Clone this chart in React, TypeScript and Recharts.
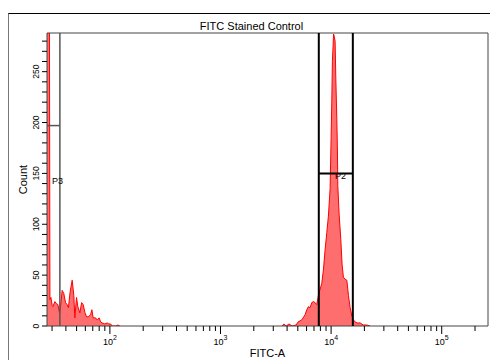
import {
  ComposedChart, Area, XAxis, YAxis, ReferenceLine, ReferenceArea, ReferenceDot,
} from 'recharts';

// FITC-A histogram, low cluster (first bin is piled up off scale)
const lowX = [
  27, 28.3, 28.7, 29.3, 30.1, 30.5, 31.8, 32.8, 33.9, 35.0, 35.8, 37.0, 38.3, 39.7,
  41.1, 42.2, 43.6, 45.6, 47.2, 48.2, 49.9, 51.3, 53.5, 55.5, 57.4, 59.5, 61.6, 63.6,
  66.9, 68.7, 70.6, 74.2, 76.8, 80.0, 82.4, 85.1, 90.0, 94.5, 97.9, 101.5, 105, 113.3,
  118, 123,
];
const lowCount = [
  400, 400, 26, 28, 20, 19, 24, 22, 21, 13, 19, 35, 32, 23,
  21, 18, 33, 45, 30, 8, 28, 19, 13, 23, 21, 13, 9, 9,
  11, 16, 8, 8, 6, 8, 4, 3, 2, 3, 2, 2, 0, 0,
  1, 0,
];

// bright cluster around 10^4
const highX = [
  3600, 3755, 3915, 4168, 4438, 4825, 5029, 5430, 5816, 6028, 6232, 6457, 6689, 6916,
  7166, 7424, 7676, 7954, 8238, 8518, 8826, 9144, 9454, 9795, 10000, 10140, 10275,
  10535, 10700, 10869, 11028, 11262, 11403, 11498, 11814, 12240, 12576, 12922, 13388,
  13876, 14346, 14858, 15394, 15916, 16490, 17191, 18298, 19481, 21044, 22537,
];
const highCount = [
  0, 2, 0, 2, 0, 1, 4, 6, 11, 16, 19, 18, 23, 24,
  23, 21, 30, 36, 42, 55, 75, 92, 108, 135, 184, 220, 260,
  287, 284, 280, 244, 204, 174, 138, 110, 85, 60, 48, 46,
  45, 30, 18, 10, 6, 4, 3, 3, 1, 1, 0,
];

const xTicks = [
  30, 40, 50, 60, 70, 80, 90,
  100, 200, 300, 400, 500, 600, 700, 800, 900,
  1000, 2000, 3000, 4000, 5000, 6000, 7000, 8000, 9000,
  10000, 20000, 30000, 40000, 50000, 60000, 70000, 80000, 90000,
  100000, 200000,
];
const yTicks = [
  0, 10, 20, 30, 40, 50, 60, 70, 80, 90, 100, 110, 120, 130, 140,
  150, 160, 170, 180, 190, 200, 210, 220, 230, 240, 250, 260, 270, 280,
];

const X_MIN = 27;
const X_MAX = 262144;
const Y_MAX = 288;

// gates
const P3_RIGHT = 35.3;
const P3_Y = 197;
const P2_LEFT = 7740;
const P2_RIGHT = 15720;
const P2_Y = 150;

const FONT = '"Liberation Sans", Arial, sans-serif';

const data = [
  ...lowX.map((x, i) => ({ x, count: lowCount[i] as number | null })),
  { x: 1000, count: null },
  ...highX.map((x, i) => ({ x, count: highCount[i] as number | null })),
];

const XTick = (props: any) => {
  const { x, y, payload } = props;
  const v = payload.value as number;
  const lg = Math.log10(v);
  const exp = Math.round(lg);
  const major = Math.abs(lg - exp) < 1e-6;
  return (
    <g>
      <line x1={x} x2={x} y1={y} y2={y + (major ? 8 : 5)} stroke="#000" strokeWidth={1} />
      {major && (
        <text x={x} y={y + 19} textAnchor="middle" fontSize={9} fontFamily={FONT} fill="#000">
          10<tspan dy={-5} fontSize={7}>{exp}</tspan>
        </text>
      )}
    </g>
  );
};

const YTick = (props: any) => {
  const { x, y, payload } = props;
  const v = payload.value as number;
  const tx = x - 8;
  return (
    <g>
      <line x1={x - 5} x2={x} y1={y} y2={y} stroke="#000" strokeWidth={1} />
      {v % 50 === 0 && (
        <text x={tx} y={y} transform={`rotate(-90 ${tx} ${y})`} textAnchor="middle"
          fontSize={8.5} fontFamily={FONT} fill="#000">
          {v}
        </text>
      )}
    </g>
  );
};

export default function App() {
  return (
    <div style={{ position: 'absolute', left: 0, top: 0, width: 490, height: 360, background: '#fff', overflow: 'hidden' }}>
      <div style={{
        position: 'absolute', left: 8, top: 13, width: 481, height: 360,
        borderTop: '1px solid #000', borderLeft: '1px solid #777',
      }} />
      <div style={{
        position: 'absolute', left: 0, top: 20, width: 503, textAlign: 'center',
        fontFamily: FONT, fontSize: 11, lineHeight: '13px', color: '#000',
      }}>
        FITC Stained Control
      </div>
      <div style={{ position: 'absolute', left: 0, top: 0 }}>
        <ComposedChart width={490} height={360} data={data}
          margin={{ top: 33, right: 2, bottom: 0, left: 0 }}>
          <XAxis dataKey="x" type="number" scale="log" domain={[X_MIN, X_MAX]} allowDataOverflow
            ticks={xTicks} interval={0} tick={<XTick />} tickLine={false} axisLine={false}
            tickSize={0} tickMargin={0} height={34}
            label={{ value: 'FITC-A', position: 'insideBottom', offset: 3, fontSize: 11, fill: '#000', fontFamily: FONT }} />
          <YAxis type="number" domain={[0, Y_MAX]} allowDataOverflow ticks={yTicks} interval={0}
            tick={<YTick />} tickLine={false} axisLine={false} tickSize={0} tickMargin={0} width={47}
            label={{ value: 'Count', angle: -90, position: 'center', fontSize: 11, fill: '#000', fontFamily: FONT }} />
          <Area type="linear" dataKey="count" stroke="#ff0000" strokeWidth={1} fill="#ff6e6e"
            fillOpacity={1} dot={false} activeDot={false} connectNulls={false} isAnimationActive={false} />
          <ReferenceLine x={P3_RIGHT} stroke="#555" strokeWidth={1.5} />
          <ReferenceLine segment={[{ x: X_MIN, y: P3_Y }, { x: P3_RIGHT, y: P3_Y }]} stroke="#555" strokeWidth={1.5} />
          <ReferenceLine x={P2_LEFT} stroke="#000" strokeWidth={2} />
          <ReferenceLine x={P2_RIGHT} stroke="#000" strokeWidth={2} />
          <ReferenceLine segment={[{ x: P2_LEFT, y: P2_Y }, { x: P2_RIGHT, y: P2_Y }]} stroke="#000" strokeWidth={2} />
          <ReferenceDot x={29.3} y={143} r={1} fill="none" stroke="none"
            label={{ value: 'P3', position: 'right', offset: 0, fontSize: 9, fill: '#000', fontFamily: FONT }} />
          <ReferenceDot x={10644} y={147.5} r={1} fill="none" stroke="none"
            label={{ value: 'P2', position: 'right', offset: 0, fontSize: 9, fill: '#000', fontFamily: FONT }} />
          <ReferenceArea x1={X_MIN} x2={X_MAX} y1={0} y2={Y_MAX} fill="none" fillOpacity={0}
            stroke="#444" strokeWidth={1} />
        </ComposedChart>
      </div>
    </div>
  );
}
